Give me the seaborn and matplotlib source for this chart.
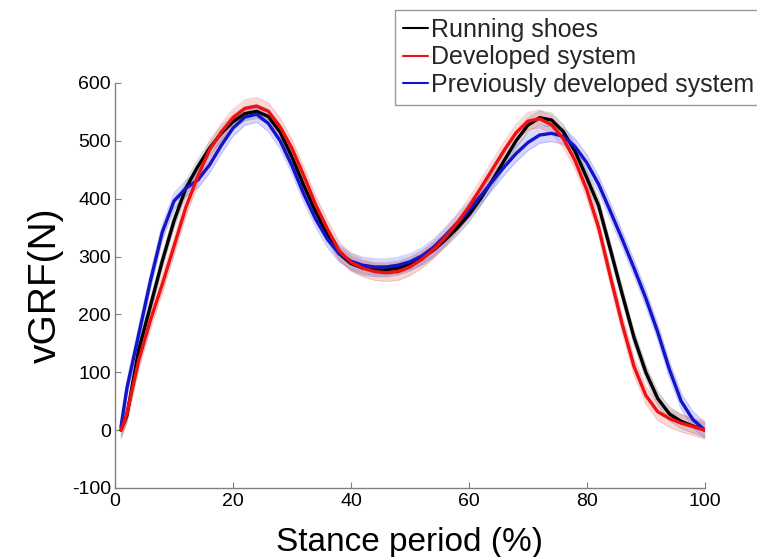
import numpy as np
import pandas as pd
import matplotlib
matplotlib.use('Agg')
import matplotlib.pyplot as plt
import seaborn as sns

# stance period (%) and mean vGRF (N)
stance = [1, 2, 4, 6, 8, 10, 12, 14, 16, 18, 20, 22, 24, 26, 28, 30, 32, 34, 36, 38,
          40, 42, 44, 46, 48, 50, 52, 54, 56, 58, 60, 62, 64, 66, 68, 70, 72, 74, 76, 78,
          80, 82, 84, 86, 88, 90, 92, 94, 96, 98, 100]

running_shoes = [0, 25, 138, 215, 292, 362, 418, 455, 487, 513, 533, 547, 551, 542, 515, 472, 423, 378, 338, 305,
                 288, 280, 277, 277, 280, 287, 297, 311, 329, 349, 372, 400, 432, 466, 500, 527, 540, 536, 516, 482,
                 436, 388, 312, 235, 160, 100, 55, 28, 15, 7, 0]

developed = [0, 28, 120, 190, 252, 318, 385, 438, 484, 515, 540, 556, 560, 551, 524, 487, 440, 390, 348, 310,
             290, 280, 274, 272, 274, 282, 295, 312, 333, 358, 386, 418, 451, 484, 514, 534, 538, 528, 504, 466,
             415, 350, 265, 183, 110, 60, 32, 20, 12, 6, 0]

previous = [5, 72, 165, 258, 342, 396, 418, 432, 458, 492, 522, 541, 546, 530, 500, 457, 408, 365, 330, 305,
            292, 285, 282, 282, 285, 291, 301, 316, 336, 358, 380, 405, 430, 455, 478, 497, 510, 513, 508, 490,
            462, 425, 378, 330, 280, 228, 170, 105, 50, 18, 0]

# approx. spread of each group (N)
sd_shoes = 12
sd_developed = 15
sd_previous = 14

labels = ['Running shoes', 'Developed system', 'Previously developed system']
colors = ['#000000', '#ee1111', '#1414c8']
band_colors = ['#8c8c8c', '#f08080', '#8080ff']

df = pd.DataFrame({
    'Stance': stance * 3,
    'vGRF': running_shoes + developed + previous,
    'Group': [labels[0]] * len(stance) + [labels[1]] * len(stance) + [labels[2]] * len(stance),
})

sns.set_style('ticks')
plt.rcParams['font.family'] = ['Liberation Sans', 'DejaVu Sans']
plt.rcParams['axes.unicode_minus'] = False

fig = plt.figure(figsize=(7.57, 5.57), dpi=100)
ax = fig.add_axes([0.152, 0.124, 0.779, 0.727])

# shaded bands first
for vals, sd, bc in [(running_shoes, sd_shoes, band_colors[0]),
                     (previous, sd_previous, band_colors[2]),
                     (developed, sd_developed, band_colors[1])]:
    v = np.array(vals)
    ax.fill_between(stance, v - sd, v + sd, color=bc, alpha=0.3, lw=0)
    ax.plot(stance, v + sd, color=bc, alpha=0.35, lw=0.8)
    ax.plot(stance, v - sd, color=bc, alpha=0.35, lw=0.8)

palette = dict(zip(labels, colors))
sns.lineplot(data=df, x='Stance', y='vGRF', hue='Group', hue_order=[labels[0], labels[2], labels[1]],
             palette=palette, lw=2.4, ax=ax, legend=False)

ax.set_xlim(0, 100)
ax.set_ylim(-100, 600)
ax.set_xticks([0, 20, 40, 60, 80, 100])
ax.set_yticks([-100, 0, 100, 200, 300, 400, 500, 600])
ax.set_xlabel('Stance period (%)', fontsize=24, labelpad=12, color='black')
ax.set_ylabel('vGRF(N)', fontsize=28, labelpad=6, color='black')

for s in ['top', 'right']:
    ax.spines[s].set_visible(False)
for s in ['left', 'bottom']:
    ax.spines[s].set_color('#808080')
    ax.spines[s].set_linewidth(1.0)
ax.tick_params(direction='in', length=4, color='#808080', labelcolor='black', labelsize=14)
ax.tick_params(axis='x', pad=4)
ax.tick_params(axis='y', pad=3)

handles = [plt.Line2D([], [], color=c, lw=1.5) for c in colors]
leg = fig.legend(handles, labels, loc='upper left', bbox_to_anchor=(395 / 757, 1 - 10 / 557),
                 bbox_transform=fig.transFigure, fontsize=18, frameon=True, fancybox=False,
                 handlelength=1.0, handletextpad=0.15, labelspacing=0.15, borderpad=0.3,
                 borderaxespad=0)
leg.get_frame().set_edgecolor('#808080')
leg.get_frame().set_linewidth(1.0)

fig.savefig('out.png', dpi=100)
